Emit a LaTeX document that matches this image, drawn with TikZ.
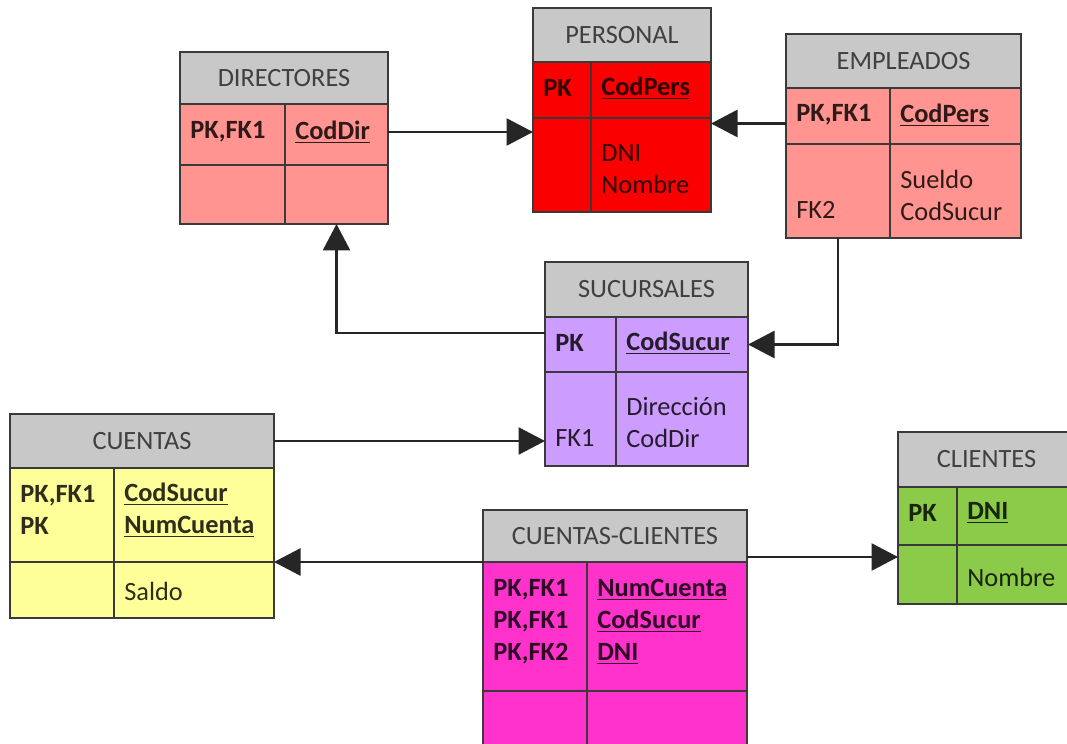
\documentclass[tikz,border=0pt]{standalone}
\usepackage{fontspec}
\setmainfont{Carlito}
\usetikzlibrary{arrows.meta}

\definecolor{hdrgray}{HTML}{C8C8C8}
\definecolor{tabsalmon}{HTML}{FF9490}
\definecolor{tabred}{HTML}{FA0000}
\definecolor{tablila}{HTML}{CC9CFF}
\definecolor{tabyellow}{HTML}{FFFF99}
\definecolor{tabmagenta}{HTML}{FF33CC}
\definecolor{tabgreen}{HTML}{8CCB4A}
\definecolor{linegray}{HTML}{3A3A3A}

\newcommand{\tabfont}{\fontsize{15}{18.2}\selectfont}

\tikzset{
    cell/.style 2 args={draw=linegray, line width=1.1pt, anchor=north west, inner sep=0pt, outer sep=0pt,
        minimum width=#1*0.02cm, minimum height=#2*0.02cm},
    hdr/.style 2 args={cell={#1}{#2}, fill=hdrgray, text=black!75, font=\tabfont},
    txt/.style={anchor=west, inner sep=0pt, align=left, text=black, text opacity=0.82, font=\tabfont},
    key/.style={txt, font=\tabfont\bfseries},
    fk/.style={draw=black!85, line width=1.5pt, -{Triangle[length=0.53cm,width=0.54cm]}}
}

\begin{document}
\begin{tikzpicture}[x=0.02cm, y=-0.02cm]
    \useasboundingbox (0,0) rectangle (1067,743);

    %Tables
    %DIRECTORES
    \node[hdr={208}{52}] (dirH) at (180,52) {DIRECTORES};
    \node[cell={105}{61}, fill=tabsalmon] (dirK1) at (dirH.south west) {};
    \node[cell={103}{61}, fill=tabsalmon] (dirK2) at (dirK1.north east) {};
    \node[cell={105}{59}, fill=tabsalmon] (dirA1) at (dirK1.south west) {};
    \node[cell={103}{59}, fill=tabsalmon] (dirA2) at (dirK2.south west) {};
    \node[key] (dirPK) at (190,132) {PK,FK1};
    \node[key] (dirCod) at (295,132) {\underline{CodDir}};

    %PERSONAL
    \node[hdr={178}{54}] (perH) at (533,8) {PERSONAL};
    \node[cell={58}{56}, fill=tabred] (perK1) at (perH.south west) {};
    \node[cell={120}{56}, fill=tabred] (perK2) at (perK1.north east) {};
    \node[cell={58}{94}, fill=tabred] (perA1) at (perK1.south west) {};
    \node[cell={120}{94}, fill=tabred] (perA2) at (perK2.south west) {};
    \node[key] (perPK) at (543,88) {PK};
    \node[key] (perCod) at (601,88) {\underline{CodPers}};
    \node[txt] (perAtt) at (601,169) {DNI\\Nombre};

    %EMPLEADOS
    \node[hdr={235}{54}] (empH) at (786,34) {EMPLEADOS};
    \node[cell={104}{56}, fill=tabsalmon] (empK1) at (empH.south west) {};
    \node[cell={131}{56}, fill=tabsalmon] (empK2) at (empK1.north east) {};
    \node[cell={104}{94}, fill=tabsalmon] (empA1) at (empK1.south west) {};
    \node[cell={131}{94}, fill=tabsalmon] (empA2) at (empK2.south west) {};
    \node[key] (empPK) at (796,115) {PK,FK1};
    \node[key] (empCod) at (900,115) {\underline{CodPers}};
    \node[txt] (empAtt) at (900,195) {Sueldo\\CodSucur};
    \node[txt] (empFK) at (796,210) {FK2};

    %SUCURSALES
    \node[hdr={203}{55}] (sucH) at (545,262) {SUCURSALES};
    \node[cell={71}{55}, fill=tablila] (sucK1) at (sucH.south west) {};
    \node[cell={132}{55}, fill=tablila] (sucK2) at (sucK1.north east) {};
    \node[cell={71}{94}, fill=tablila] (sucA1) at (sucK1.south west) {};
    \node[cell={132}{94}, fill=tablila] (sucA2) at (sucK2.south west) {};
    \node[key] (sucPK) at (555,343) {PK};
    \node[key] (sucCod) at (626,343) {\underline{CodSucur}};
    \node[txt] (sucAtt) at (626,423) {Dirección\\CodDir};
    \node[txt] (sucFK) at (555,438) {FK1};

    %CUENTAS
    \node[hdr={264}{54}] (cueH) at (10,414) {CUENTAS};
    \node[cell={104}{94}, fill=tabyellow] (cueK1) at (cueH.south west) {};
    \node[cell={160}{94}, fill=tabyellow] (cueK2) at (cueK1.north east) {};
    \node[cell={104}{56}, fill=tabyellow] (cueA1) at (cueK1.south west) {};
    \node[cell={160}{56}, fill=tabyellow] (cueA2) at (cueK2.south west) {};
    \node[key] (cuePK) at (20,510) {PK,FK1\\PK};
    \node[key] (cueCod) at (124,510) {\underline{CodSucur}\\\underline{NumCuenta}};
    \node[txt] (cueAtt) at (124,591) {Saldo};

    %CUENTAS-CLIENTES
    \node[hdr={264}{52}] (ccH) at (483,510) {CUENTAS-CLIENTES};
    \node[cell={104}{129}, fill=tabmagenta] (ccK1) at (ccH.south west) {};
    \node[cell={160}{129}, fill=tabmagenta] (ccK2) at (ccK1.north east) {};
    \node[cell={104}{80}, fill=tabmagenta] (ccA1) at (ccK1.south west) {};
    \node[cell={160}{80}, fill=tabmagenta] (ccA2) at (ccK2.south west) {};
    \node[key] (ccPK) at (493,622) {PK,FK1\\PK,FK1\\PK,FK2};
    \node[key] (ccCod) at (597,622) {\underline{NumCuenta}\\\underline{CodSucur}\\\underline{DNI}};

    %CLIENTES
    \node[hdr={177}{55}] (cliH) at (898,432) {CLIENTES};
    \node[cell={59}{58}, fill=tabgreen] (cliK1) at (cliH.south west) {};
    \node[cell={118}{58}, fill=tabgreen] (cliK2) at (cliK1.north east) {};
    \node[cell={59}{59}, fill=tabgreen] (cliA1) at (cliK1.south west) {};
    \node[cell={118}{59}, fill=tabgreen] (cliA2) at (cliK2.south west) {};
    \node[key] (cliPK) at (908,513) {PK};
    \node[key] (cliCod) at (967,513) {\underline{DNI}};
    \node[txt] (cliAtt) at (967,577) {Nombre};

    %Edges
    \coordinate (dirOut) at ([yshift=0.05cm]dirK2.east);
    \coordinate (empOut) at ([yshift=-0.15cm]empK1.west);
    \coordinate (sucOut) at ([yshift=0.23cm]sucK1.west);
    \coordinate (ccOut) at ([yshift=0.1cm]ccH.south east);

    \draw[fk] (dirOut) -- (dirOut -| perK1.west);
    \draw[fk] (empOut) -- (empOut -| perA2.east);
    \draw[fk] (empA1.south) |- (sucK2.east);
    \draw[fk] (sucOut) -| (dirA2.south);
    \draw[fk] (cueH.east) -- (cueH.east -| sucA1.west);
    \draw[fk] (ccH.south west) -- (ccH.south west -| cueK2.east);
    \draw[fk] (ccOut) -- (ccOut -| cliA1.west);

\end{tikzpicture}
\end{document}
